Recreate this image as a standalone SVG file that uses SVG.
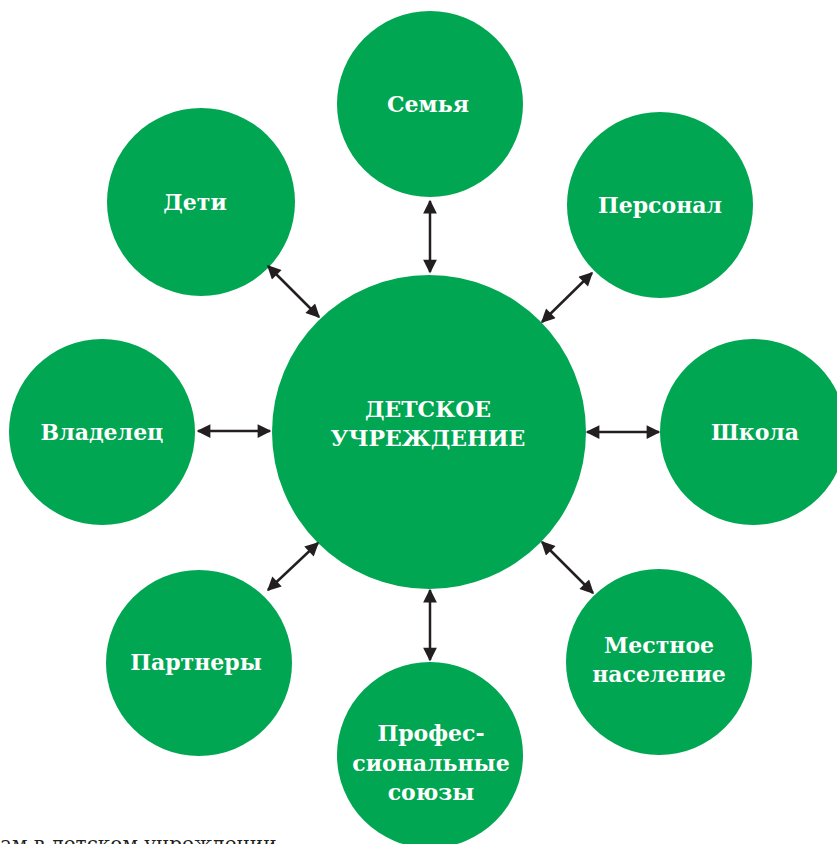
<svg xmlns="http://www.w3.org/2000/svg" width="837" height="844" viewBox="0 0 837 844">
<style>
.n{fill:#00A651}
.t{fill:#fff;font-family:"DejaVu Serif","Liberation Serif",serif;font-weight:bold;font-size:22px;text-anchor:middle}
.c{stroke:#231F20;stroke-width:2.5;fill:none;marker-start:url(#a);marker-end:url(#a)}
.cap{fill:#231F20;font-family:"DejaVu Serif","Liberation Serif",serif;font-size:20px}
</style>
<defs>
<marker id="a" viewBox="0 0 10 10" refX="9" refY="5" markerWidth="6" markerHeight="5.5" orient="auto-start-reverse" markerUnits="strokeWidth">
<path d="M0,0 L10,5 L0,10 Z" fill="#231F20"/>
</marker>
</defs>
<rect width="837" height="844" fill="#fff"/>
<g id="center"><circle class="n" cx="429" cy="432" r="157"/><text class="t" x="428" y="417">ДЕТСКОЕ</text><text class="t" x="428" y="446">УЧРЕЖДЕНИЕ</text></g>
<g id="semya"><circle class="n" cx="430" cy="104" r="93"/><text class="t" x="428" y="112">Семья</text></g>
<g id="deti"><circle class="n" cx="201" cy="202" r="94"/><text class="t" x="195" y="210">Дети</text></g>
<g id="personal"><circle class="n" cx="660" cy="205" r="93"/><text class="t" x="660" y="213">Персонал</text></g>
<g id="vladelec"><circle class="n" cx="102" cy="432" r="93"/><text class="t" x="102" y="440">Владелец</text></g>
<g id="shkola"><circle class="n" cx="753" cy="432" r="93"/><text class="t" x="755" y="440">Школа</text></g>
<g id="partnery"><circle class="n" cx="199" cy="663" r="93"/><text class="t" x="196" y="670">Партнеры</text></g>
<g id="profsoyuzy"><circle class="n" cx="430" cy="755" r="93"/><text class="t" x="431" y="741">Профес-</text><text class="t" x="431" y="771">сиональные</text><text class="t" x="431" y="800">союзы</text></g>
<g id="naselenie"><circle class="n" cx="659" cy="662" r="93"/><text class="t" x="659" y="653">Местное</text><text class="t" x="659" y="682">население</text></g>
<g id="connectors">
<line class="c" x1="430" y1="201" x2="430" y2="272"/>
<line class="c" x1="268" y1="266" x2="319" y2="317"/>
<line class="c" x1="592" y1="273" x2="542" y2="322"/>
<line class="c" x1="198" y1="431" x2="270" y2="431"/>
<line class="c" x1="587" y1="432" x2="659" y2="432"/>
<line class="c" x1="268" y1="590" x2="318" y2="543"/>
<line class="c" x1="430" y1="590" x2="430" y2="660"/>
<line class="c" x1="542" y1="542" x2="593" y2="593"/>
</g>
<text class="cap" x="0" y="851">ам в детском учреждении</text>
</svg>
